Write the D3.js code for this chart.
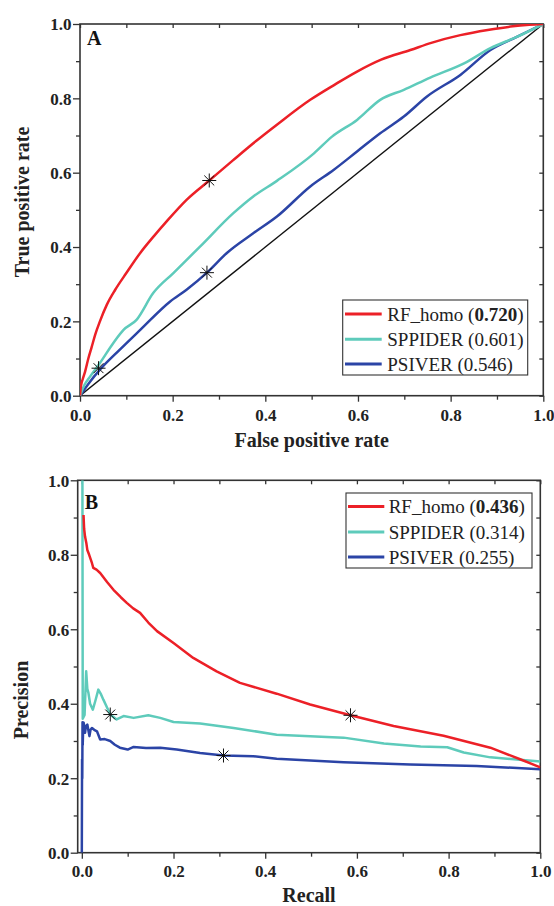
<!DOCTYPE html>
<html><head><meta charset="utf-8">
<script src="https://cdn.jsdelivr.net/npm/d3@7"></script>
<style>body{margin:0;background:#fff;} svg{display:block;}</style>
</head><body>
<svg id="c" width="554" height="906"></svg>
<script>
// ---- ROC data (False positive rate, True positive rate) ----
const rfRocX = [0,0.002,0.006,0.011,0.018,0.025,0.033,0.043,0.058,0.076,0.10,0.13,0.16,0.187,0.23,0.279,0.33,0.38,0.425,0.497,0.55,0.598,0.65,0.713,0.76,0.821,0.88,0.929,0.97,1];
const rfRocY = [0,0.025,0.045,0.065,0.10,0.13,0.165,0.2,0.245,0.285,0.33,0.384,0.43,0.469,0.527,0.579,0.633,0.685,0.729,0.796,0.837,0.872,0.904,0.930,0.950,0.970,0.984,0.993,0.998,1];
const spRocX = [0,0.01,0.022,0.043,0.072,0.094,0.122,0.158,0.2015,0.259,0.331,0.374,0.425,0.505,0.544,0.598,0.648,0.699,0.756,0.829,0.886,0.944,1];
const spRocY = [0,0.03,0.052,0.088,0.142,0.177,0.204,0.276,0.33,0.401,0.491,0.536,0.578,0.652,0.697,0.742,0.796,0.823,0.856,0.894,0.935,0.966,1];
const psRocX = [0,0.02,0.043,0.086,0.13,0.194,0.23,0.274,0.317,0.374,0.425,0.497,0.548,0.598,0.648,0.699,0.749,0.821,0.886,0.944,1];
const psRocY = [0,0.035,0.07,0.124,0.177,0.253,0.285,0.331,0.384,0.437,0.482,0.563,0.608,0.657,0.706,0.751,0.805,0.863,0.930,0.966,1];
const rocStarX = [0.279,0.040,0.274];
const rocStarY = [0.579,0.074,0.331];

// ---- PR data (Recall, Precision) ----
const rfPrX = [0.0037,0.005,0.007,0.010,0.012,0.016,0.022,0.025,0.032,0.04,0.055,0.069,0.085,0.098,0.112,0.127,0.145,0.164,0.2,0.243,0.294,0.345,0.425,0.498,0.586,0.68,0.789,0.891,0.956,1.0];
const rfPrY = [0.907,0.87,0.849,0.83,0.813,0.80,0.778,0.765,0.76,0.751,0.727,0.706,0.686,0.671,0.656,0.644,0.618,0.595,0.563,0.523,0.487,0.456,0.427,0.398,0.369,0.340,0.314,0.282,0.251,0.229];
const spPrX = [0.0013,0.002,0.006,0.0095,0.012,0.0144,0.018,0.024,0.03,0.036,0.042,0.047,0.055,0.062,0.076,0.091,0.113,0.145,0.171,0.2,0.258,0.331,0.425,0.498,0.571,0.659,0.739,0.797,0.833,0.891,0.949,1.0];
const spPrY = [1.0,0.36,0.37,0.487,0.44,0.429,0.40,0.384,0.41,0.438,0.425,0.411,0.39,0.371,0.358,0.367,0.362,0.369,0.362,0.351,0.347,0.335,0.317,0.313,0.309,0.293,0.285,0.283,0.269,0.256,0.250,0.245];
const psPrX = [0.0,0.0005,0.001,0.0015,0.002,0.003,0.004,0.007,0.009,0.012,0.0166,0.019,0.022,0.027,0.033,0.04,0.05,0.062,0.072,0.083,0.1,0.113,0.14,0.171,0.207,0.258,0.309,0.374,0.425,0.571,0.716,0.861,1.0];
const psPrY = [0.0,0.25,0.20,0.35,0.29,0.34,0.349,0.322,0.34,0.344,0.313,0.33,0.335,0.33,0.326,0.304,0.305,0.300,0.29,0.282,0.277,0.284,0.281,0.282,0.277,0.268,0.261,0.259,0.252,0.243,0.237,0.233,0.224];
const prStarX = [0.062,0.309,0.586];
const prStarY = [0.371,0.261,0.369];

const seriesNames = ["RF_homo","SPPIDER","PSIVER"];
const rocAuc = ["0.720","0.601","0.546"];
const prAuc = ["0.436","0.314","0.255"];
const aucBold = [true,false,false];
const colors = ["#ec2027","#5ecbbb","#2b44a6"];
const tickVals = [0,0.2,0.4,0.6,0.8,1.0];
const minorVals = [0.1,0.3,0.5,0.7,0.9];

const svg = d3.select("#c");
const FONT = "Liberation Serif, Times New Roman, serif";
const AX = "#333";

function zip(xs, ys){ return xs.map((x,i)=>[x, ys[i]]); }

function panel(o){
  const g = svg.append("g");
  const x = d3.scaleLinear().domain(o.xDom).range([o.left,o.right]);
  const y = d3.scaleLinear().domain([0,1]).range([o.bottom,o.top]);
  const clipId = "clip"+o.id;
  svg.append("clipPath").attr("id",clipId).append("rect")
    .attr("x",o.left).attr("y",o.top).attr("width",o.right-o.left).attr("height",o.bottom-o.top);

  const fmt = d3.format(".1f");
  const xb = g.append("g").attr("transform",`translate(0,${o.bottom})`)
    .call(d3.axisBottom(x).tickValues(tickVals).tickSize(6).tickFormat(fmt));
  xb.append("g").call(d3.axisBottom(x).tickValues(minorVals).tickSize(4).tickFormat(""));
  const yl = g.append("g").attr("transform",`translate(${o.left},0)`)
    .call(d3.axisLeft(y).tickValues(tickVals).tickSize(7).tickFormat(fmt));
  yl.append("g").call(d3.axisLeft(y).tickValues(minorVals).tickSize(4).tickFormat(""));
  const xt = g.append("g").attr("transform",`translate(0,${o.top})`)
    .call(d3.axisBottom(x).tickValues(tickVals.concat(minorVals)).tickSize(4).tickFormat(""));
  const yr = g.append("g").attr("transform",`translate(${o.right},0)`)
    .call(d3.axisLeft(y).tickValues(tickVals.concat(minorVals)).tickSize(4).tickFormat(""));
  [xb,yl,xt,yr].forEach(a=>{
    a.attr("font-family",FONT);
    a.selectAll("path.domain").remove();
    a.selectAll("line").attr("stroke",AX).attr("stroke-width",1.3);
    a.selectAll("text").attr("font-family",FONT).attr("font-weight","bold")
      .attr("font-size",17).attr("fill","#222");
  });
  xb.selectAll("text").attr("dy",null).attr("y", o.xLabY - o.bottom);
  yl.selectAll("text").attr("x",-8.5).attr("dy","0.34em");
  g.append("rect").attr("x",o.left).attr("y",o.top)
    .attr("width",o.right-o.left).attr("height",o.bottom-o.top)
    .attr("fill","none").attr("stroke",AX).attr("stroke-width",1.6);

  const plot = g.append("g").attr("clip-path",`url(#${clipId})`);
  if(o.diag){
    plot.append("line").attr("x1",x(0)).attr("y1",y(0)).attr("x2",x(1)).attr("y2",y(1))
      .attr("stroke","#111").attr("stroke-width",1.4);
  }
  const line = d3.line().x(d=>x(d[0])).y(d=>y(d[1])).curve(o.curve);
  [2,1,0].forEach(i=>{
    plot.append("path").datum(o.data[i]).attr("d",line)
      .attr("fill","none").attr("stroke",colors[i]).attr("stroke-width",2.5)
      .attr("stroke-linejoin","round");
  });
  const r = 7;
  o.stars.forEach(([sx,sy])=>{
    const cx = x(sx), cy = y(sy);
    const sg = g.append("g").attr("transform",`translate(${cx},${cy})`);
    [0,45,90,135].forEach(a=>{
      const rad = a*Math.PI/180;
      sg.append("line").attr("x1",-r*Math.cos(rad)).attr("y1",-r*Math.sin(rad))
        .attr("x2",r*Math.cos(rad)).attr("y2",r*Math.sin(rad))
        .attr("stroke","#111").attr("stroke-width",1);
    });
  });
  g.append("text").attr("x",o.left+7).attr("y",o.letterY).text(o.letter)
    .attr("font-family",FONT).attr("font-weight","bold").attr("font-size",20).attr("fill","#111");
  g.append("text").attr("x",(o.left+o.right)/2).attr("y",o.xTitleY).attr("text-anchor","middle")
    .text(o.xTitle).attr("font-family",FONT).attr("font-weight","bold").attr("font-size",20).attr("fill","#222");
  g.append("text").attr("transform",`translate(${o.yTitleX},${o.yTitleCY}) rotate(-90)`)
    .attr("text-anchor","middle").text(o.yTitle)
    .attr("font-family",FONT).attr("font-weight","bold").attr("font-size",20).attr("fill","#222");
  const L = o.legend;
  g.append("rect").attr("x",L.x).attr("y",L.y).attr("width",L.w).attr("height",L.h)
    .attr("fill","#fff").attr("stroke",AX).attr("stroke-width",1.1);
  seriesNames.forEach((nm,i)=>{
    const cy = L.rows[i];
    g.append("line").attr("x1",L.lx1).attr("x2",L.lx2).attr("y1",cy).attr("y2",cy)
      .attr("stroke",colors[i]).attr("stroke-width",3);
    const t = g.append("text").attr("x",L.tx).attr("y",cy+6.5)
      .attr("font-family",FONT).attr("font-size",19).attr("fill","#222");
    t.append("tspan").text(nm+" (");
    t.append("tspan").text(o.auc[i]).attr("font-weight",aucBold[i]?"bold":"normal");
    t.append("tspan").text(")");
  });
}

panel({
  id:"A", letter:"A", letterY:45,
  left:80, right:543.3, top:24, bottom:395.7, xDom:[0,1], xLabY:421,
  diag:true, curve:d3.curveMonotoneX,
  data:[zip(rfRocX,rfRocY), zip(spRocX,spRocY), zip(psRocX,psRocY)],
  stars: zip(rocStarX, rocStarY),
  xTitle:"False positive rate", xTitleY:447, yTitle:"True positive rate", yTitleX:29, yTitleCY:202,
  auc: rocAuc,
  legend:{x:342.7,y:300,w:185,h:75,lx1:345,lx2:381.7,tx:387.3,rows:[314,339.3,364]}
});
panel({
  id:"B", letter:"B", letterY:509,
  left:77.7, right:540.3, top:480.3, bottom:852.7, xDom:[-0.009,1], xLabY:877.5,
  diag:false, curve:d3.curveLinear,
  data:[zip(rfPrX,rfPrY), zip(spPrX,spPrY), zip(psPrX,psPrY)],
  stars: zip(prStarX, prStarY),
  xTitle:"Recall", xTitleY:902, yTitle:"Precision", yTitleX:28, yTitleCY:700,
  auc: prAuc,
  legend:{x:346,y:493,w:186,h:75,lx1:348,lx2:384.3,tx:388.7,rows:[506.5,532,557]}
});
</script>
</body></html>
